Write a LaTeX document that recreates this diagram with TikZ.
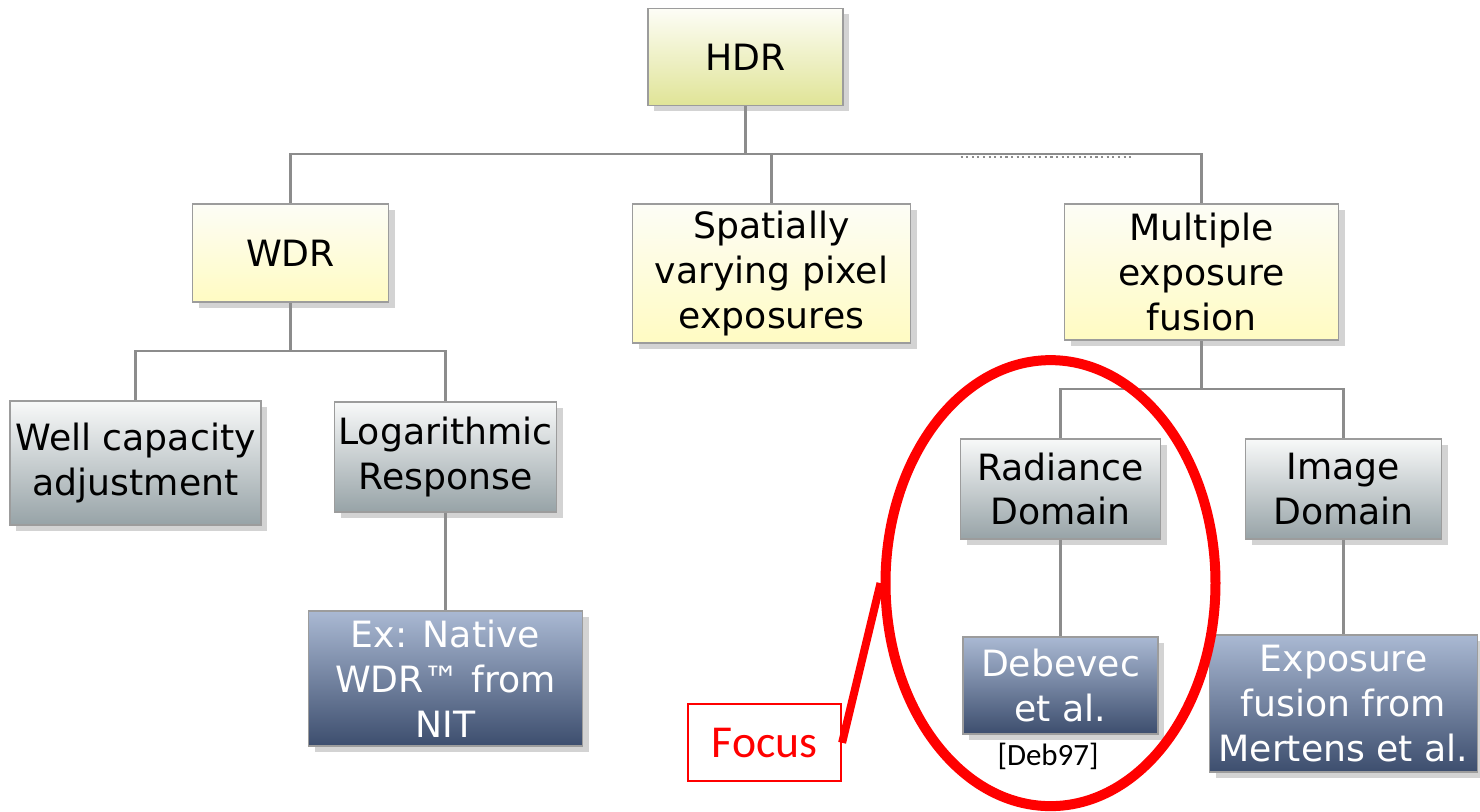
\documentclass[tikz,border=0pt]{standalone}
\usepackage{fontspec}
\setmainfont{DejaVu Sans}
\newfontfamily\notefont{Carlito}
\usepackage{tikz}
\usetikzlibrary{calc}
\usetikzlibrary{positioning, shapes.geometric, shadows}

\definecolor{hdrbot}{HTML}{E0E497}
\definecolor{ylwtop}{HTML}{FDFDF6}
\definecolor{ylwbot}{HTML}{FFFBC2}
\definecolor{graytop}{HTML}{F8F9F9}
\definecolor{graybot}{HTML}{97A3A7}
\definecolor{bluetop}{HTML}{AAB9D3}
\definecolor{bluebot}{HTML}{3D4E6E}
\definecolor{boxline}{HTML}{9C9C9C}
\definecolor{linkgray}{HTML}{8C8C8C}

\begin{document}
\begin{tikzpicture}[
  node distance=9.7mm,
  box/.style={draw=boxline, line width=0.5pt, align=center, inner sep=1pt,
              font=\fontsize{10.3}{12.8}\selectfont,
              drop shadow={shadow xshift=0.6mm, shadow yshift=-0.6mm, opacity=0.35}},
  pale/.style={box, top color=ylwtop, bottom color=ylwbot},
  leaf/.style={box, top color=graytop, bottom color=graybot},
  deep/.style={box, top color=bluetop, bottom color=bluebot, text=white},
  link/.style={draw=linkgray, line width=0.6pt},
  mark red/.style={draw=red, line width=1mm}
]
\useasboundingbox (0,0) rectangle (14.8,-8.12);

%% ── Niveau 1 et 2 ───────────────────────────────────────────────
\node[pale, bottom color=hdrbot, minimum width=19.5mm, minimum height=9.7mm]
  (hdr) at (7.455,-0.57) {HDR};

\node[pale, below=of hdr, xshift=-45.5mm, minimum width=19.6mm,
  minimum height=9.8mm] (wdr) {WDR};

\node[pale, below=of hdr, xshift=2.6mm, minimum width=27.8mm,
  minimum height=13.9mm] (spatial) {Spatially\\varying pixel\\exposures};

\node[pale, below=of hdr, xshift=45.6mm, minimum width=27.4mm,
  minimum height=13.6mm] (multi) {Multiple\\exposure\\fusion};

%% ── Branche WDR ──────────────────────────────────────────────────
\node[leaf, below=of wdr, xshift=-15.5mm, minimum width=25.1mm,
  minimum height=12.4mm] (well) {Well capacity\\adjustment};

\node[leaf, below=9.8mm of wdr, xshift=15.5mm, minimum width=22.2mm,
  minimum height=11mm] (logr) {Logarithmic\\Response};

\node[deep, below=of logr, minimum width=27.4mm, minimum height=13.5mm]
  (native) {Ex: Native\\WDR™ from\\NIT};

%% ── Branche fusion ───────────────────────────────────────────────
\node[leaf, below=of multi, xshift=-14.1mm, minimum width=20mm,
  minimum height=10mm] (rad) {Radiance\\Domain};

\node[leaf, below=of multi, xshift=14.2mm, minimum width=19.6mm,
  minimum height=10mm] (img) {Image\\Domain};

\node[deep, below=9.6mm of rad, minimum width=19.5mm, minimum height=9.7mm]
  (deb) {Debevec\\et al.};

\node[deep, below=9.4mm of img, minimum width=26.8mm, minimum height=13.7mm]
  (expo) {Exposure\\fusion from\\Mertens et al.};

\node[font=\notefont\fontsize{8.8}{10}\selectfont, inner sep=0pt,
  below=0.8mm of deb, xshift=-1.25mm] (cite) {[Deb97]};

%% ── Liaisons ─────────────────────────────────────────────────────
\draw[link] (hdr.south) -- ++(0,-4.8mm) coordinate (topbus);
\draw[link] (wdr.north) |- (topbus) -| (multi.north);
\draw[link] (spatial.north) -- (spatial.north |- topbus);
\draw[link, densely dotted] ($(topbus)+(21.5mm,-0.3mm)$) -- ++(17mm,0);

\draw[link] (wdr.south) -- ++(0,-4.8mm) coordinate (wdrbus);
\draw[link] (well.north) |- (wdrbus) -| (logr.north);
\draw[link] (logr.south) -- (native.north);

\draw[link] (multi.south) -- ++(0,-4.8mm) coordinate (multibus);
\draw[link] (rad.north) |- (multibus) -| (img.north);
\draw[link] (rad.south) -- (deb.north);
\draw[link] (img.south) -- (expo.north);

%% ── Focus ────────────────────────────────────────────────────────
\node[ellipse, mark red, minimum width=33mm, minimum height=44.6mm,
  inner sep=0pt] (ring) at ($(rad)!0.5!(deb)+(-1mm,0.4mm)$) {};

\node[draw=red, line width=0.6pt, text=red,
  font=\notefont\fontsize{13}{15}\selectfont, minimum width=15.3mm,
  minimum height=7.7mm, left=12mm of deb, yshift=-5.75mm] (focus) {Focus};

\draw[mark red, line width=0.8mm] (focus.east) -- (ring.west);

\end{tikzpicture}
\end{document}
